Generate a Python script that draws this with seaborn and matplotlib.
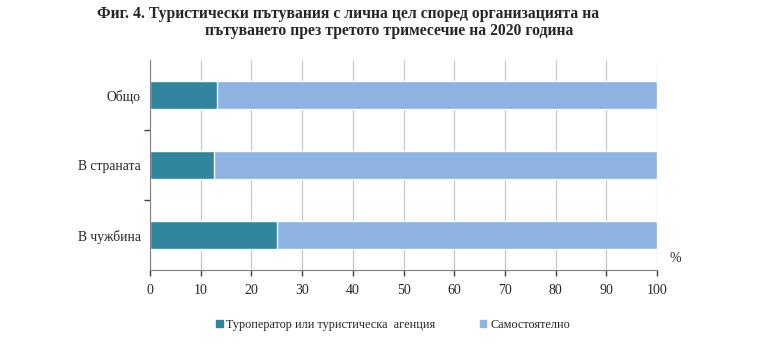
import matplotlib
matplotlib.use("Agg")
import matplotlib.pyplot as plt
import seaborn as sns
import pandas as pd
from matplotlib.patches import Patch

sns.set_style("white")
plt.rcParams['font.family'] = ['Liberation Serif', 'DejaVu Serif']

# данни
categories = ["Общо", "В страната", "В чужбина"]
tour_operator = [13.2, 12.7, 25.0]
self_organized = [86.8, 87.3, 75.0]

df = pd.DataFrame({
    "cat": categories,
    "tour": tour_operator,
    "total": [a + b for a, b in zip(tour_operator, self_organized)],
})

dark = "#31859C"
light = "#8DB3E2"

fig = plt.figure(figsize=(7.68, 3.53), dpi=100)
ax = fig.add_axes([150 / 768, 1 - 270 / 353, 507 / 768, 210 / 353])

sns.barplot(data=df, x="total", y="cat", color=light, width=0.39,
            orient="h", ax=ax, saturation=1, zorder=2)
sns.barplot(data=df, x="tour", y="cat", color=dark, width=0.39,
            orient="h", ax=ax, saturation=1, zorder=3)

ax.set_xlim(0, 100)
ax.set_ylim(2.5, -0.5)
ax.set_xticks(range(0, 101, 10))
ax.set_xlabel("")
ax.set_ylabel("")
ax.grid(axis="x", color="#C8C8C8", linewidth=0.9, zorder=0)
ax.set_axisbelow(True)

for s in ["top", "right"]:
    ax.spines[s].set_visible(False)
for s in ["left", "bottom"]:
    ax.spines[s].set_color("#808080")
    ax.spines[s].set_zorder(5)

# подписи по оста y и черти между категориите
ax.set_yticks([0, 1, 2])
ax.set_yticklabels(categories, fontsize=9.8)
ax.tick_params(axis="y", which="major", left=False, pad=3)
ax.set_yticks([0.5, 1.5], minor=True)
ax.tick_params(axis="y", which="minor", left=True, length=4, width=1,
               color="#404040", direction="out")
ax.tick_params(axis="x", bottom=True, length=4, width=1, color="#404040",
               direction="out", labelsize=10, pad=6)

fig.text(670 / 768, 1 - 258 / 353, "%", fontsize=10, ha="left", va="center")

fig.text(97 / 768, 1 - 14 / 353,
         "Фиг. 4. Туристически пътувания с лична цел според организацията на",
         fontsize=11.3, fontweight="bold", ha="left", va="center")
fig.text(205 / 768, 1 - 31 / 353,
         "пътуването през третото тримесечие на 2020 година",
         fontsize=11.3, fontweight="bold", ha="left", va="center")

handles = [Patch(color=dark, label="Туроператор или туристическа  агенция"),
           Patch(color=light, label="Самостоятелно")]
fig.legend(handles=handles, loc="center", bbox_to_anchor=(393 / 768, 1 - 325 / 353),
           ncol=2, frameon=False, fontsize=8.8, handlelength=0.55, handleheight=0.55,
           handletextpad=0.3, columnspacing=3.6)

fig.savefig("out.png", dpi=100)
